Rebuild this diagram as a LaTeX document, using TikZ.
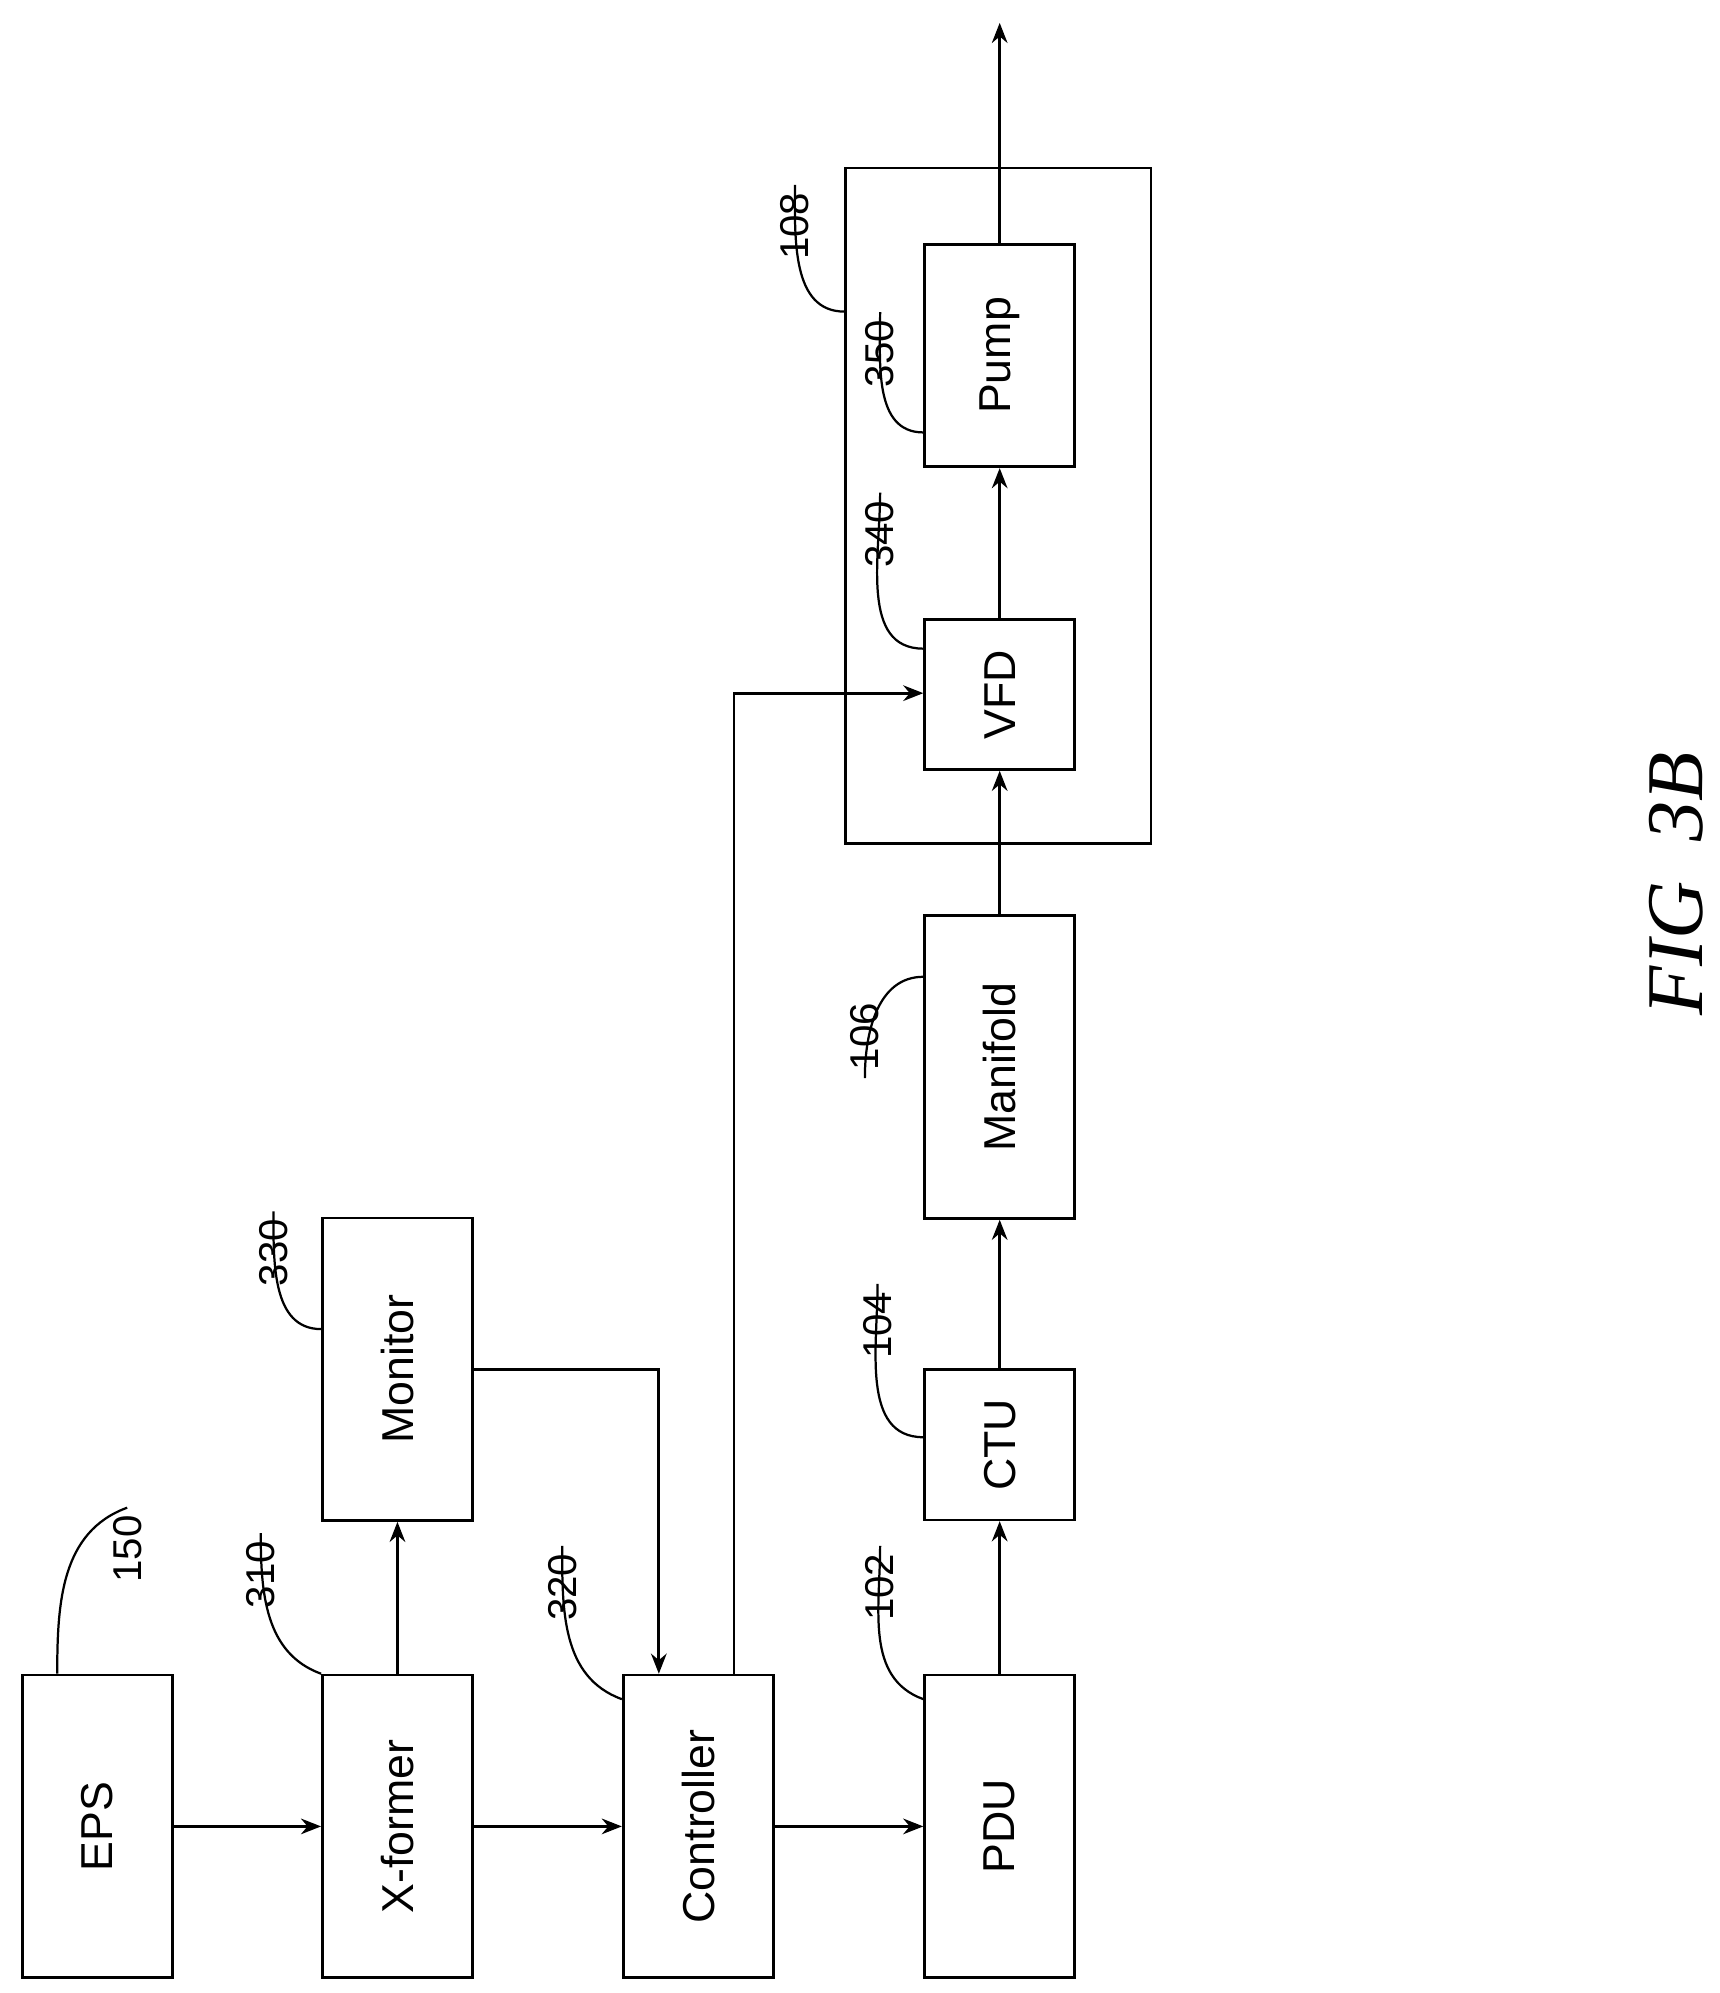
\documentclass[tikz,border=0pt]{standalone}
\usepackage{fontspec}
\setmainfont{Liberation Sans}
\newfontfamily\figfont{Liberation Serif}
\usetikzlibrary{arrows.meta, positioning, calc}

\begin{document}
\begin{tikzpicture}[x=0.02cm, y=-0.02cm,
    % block styles
    blockbox/.style={draw, line width=1.2pt, inner sep=0pt, font=\fontsize{20}{24}\selectfont},
    wide/.style={blockbox, minimum width=2.36cm, minimum height=4.76cm},
    square/.style={blockbox, minimum width=2.36cm, minimum height=2.36cm},
    flow/.style={-{Stealth[length=9pt,width=7pt]}, line width=1.2pt},
    refnum/.style={font=\fontsize{18}{20}\selectfont, rotate=90},
    leader/.style={line width=1pt}
]
\useasboundingbox (0,0) rectangle (1352,1567);

% === blocks ===
\node[wide] (eps) at (76.5,1436) {\rotatebox{90}{EPS}};
\node[wide] (xfm) at (312.5,1436) {\rotatebox{90}{X-former}};
\node[wide] (ctrl) at (549,1436) {\rotatebox{90}{Controller}};
\node[wide] (pdu) at (786,1436) {\rotatebox{90}{PDU}};
\node[wide] (mon) at (312.5,1076.5) {\rotatebox{90}{Monitor}};
\node[square] (ctu) at (786,1136) {\rotatebox{90}{CTU}};
\node[wide] (mani) at (786,839) {\rotatebox{90}{Manifold}};
\node[square] (vfd) at (786,546) {\rotatebox{90}{VFD}};
\node[blockbox, minimum width=2.36cm, minimum height=3.5cm] (pump) at (786,279.5) {\rotatebox{90}{Pump}};
\node[draw, line width=1.2pt, minimum width=4.8cm, minimum height=10.62cm] (unit) at (785,397.5) {};

% === connectors ===
\coordinate (mtap) at (518,0);
\coordinate (ctap) at (577,0);
\coordinate (vtap) at (0,545);
\coordinate (out) at (786,18);
\draw[flow] (eps) -- (xfm);
\draw[flow] (xfm) -- (ctrl);
\draw[flow] (ctrl) -- (pdu);
\draw[flow] (xfm) -- (mon);
\draw[flow] (mon.east) -| (ctrl.north -| mtap);
\draw[flow] (ctrl.north -| ctap) |- (vfd.west |- vtap);
\draw[flow] (pdu) -- (ctu);
\draw[flow] (ctu) -- (mani);
\draw[flow] (mani) -- (vfd);
\draw[flow] (vfd) -- (pump);
\draw[flow] (pump) -- (out);

% === reference numerals ===
\node[refnum] (n150) at (100,1218) {150};
\draw[leader] (eps.north -| 45,0) to[out=90, in=-160] (n150.east);
\node[refnum] (n310) at (205,1238) {310};
\draw[leader] (xfm.north west) to[out=160, in=-90] (n310.east);
\node[refnum] (n320) at (442,1248) {320};
\draw[leader] (ctrl.north west) ++(0,20) to[out=160, in=-90] (n320.east);
\node[refnum] (n330) at (215,985) {330};
\draw[leader] (mon.west |- 0,1045) to[out=180, in=-90] (n330.east);
\node[refnum] (n102) at (692,1248) {102};
\draw[leader] (pdu.north west) ++(0,20) to[out=160, in=-90] (n102.east);
\node[refnum] (n104) at (690,1042) {104};
\draw[leader] (ctu.west |- 0,1130) to[out=180, in=-90] (n104.east);
\node[refnum] (n106) at (680,815) {106};
\draw[leader] (mani.west |- 0,768) to[out=180, in=90] (n106.west);
\node[refnum] (n340) at (692,420) {340};
\draw[leader] (vfd.west |- 0,510) to[out=180, in=-90] (n340.east);
\node[refnum] (n350) at (692,278) {350};
\draw[leader] (pump.west |- 0,340) to[out=180, in=-90] (n350.east);
\node[refnum] (n108) at (625,178) {108};
\draw[leader] (unit.west |- 0,245) to[out=180, in=-90] (n108.east);

% === caption ===
\node[rotate=90, font=\figfont\itshape\fontsize{36}{40}\selectfont] (cap) at (1318,695) {FIG\ \ 3B};
\end{tikzpicture}
\end{document}
